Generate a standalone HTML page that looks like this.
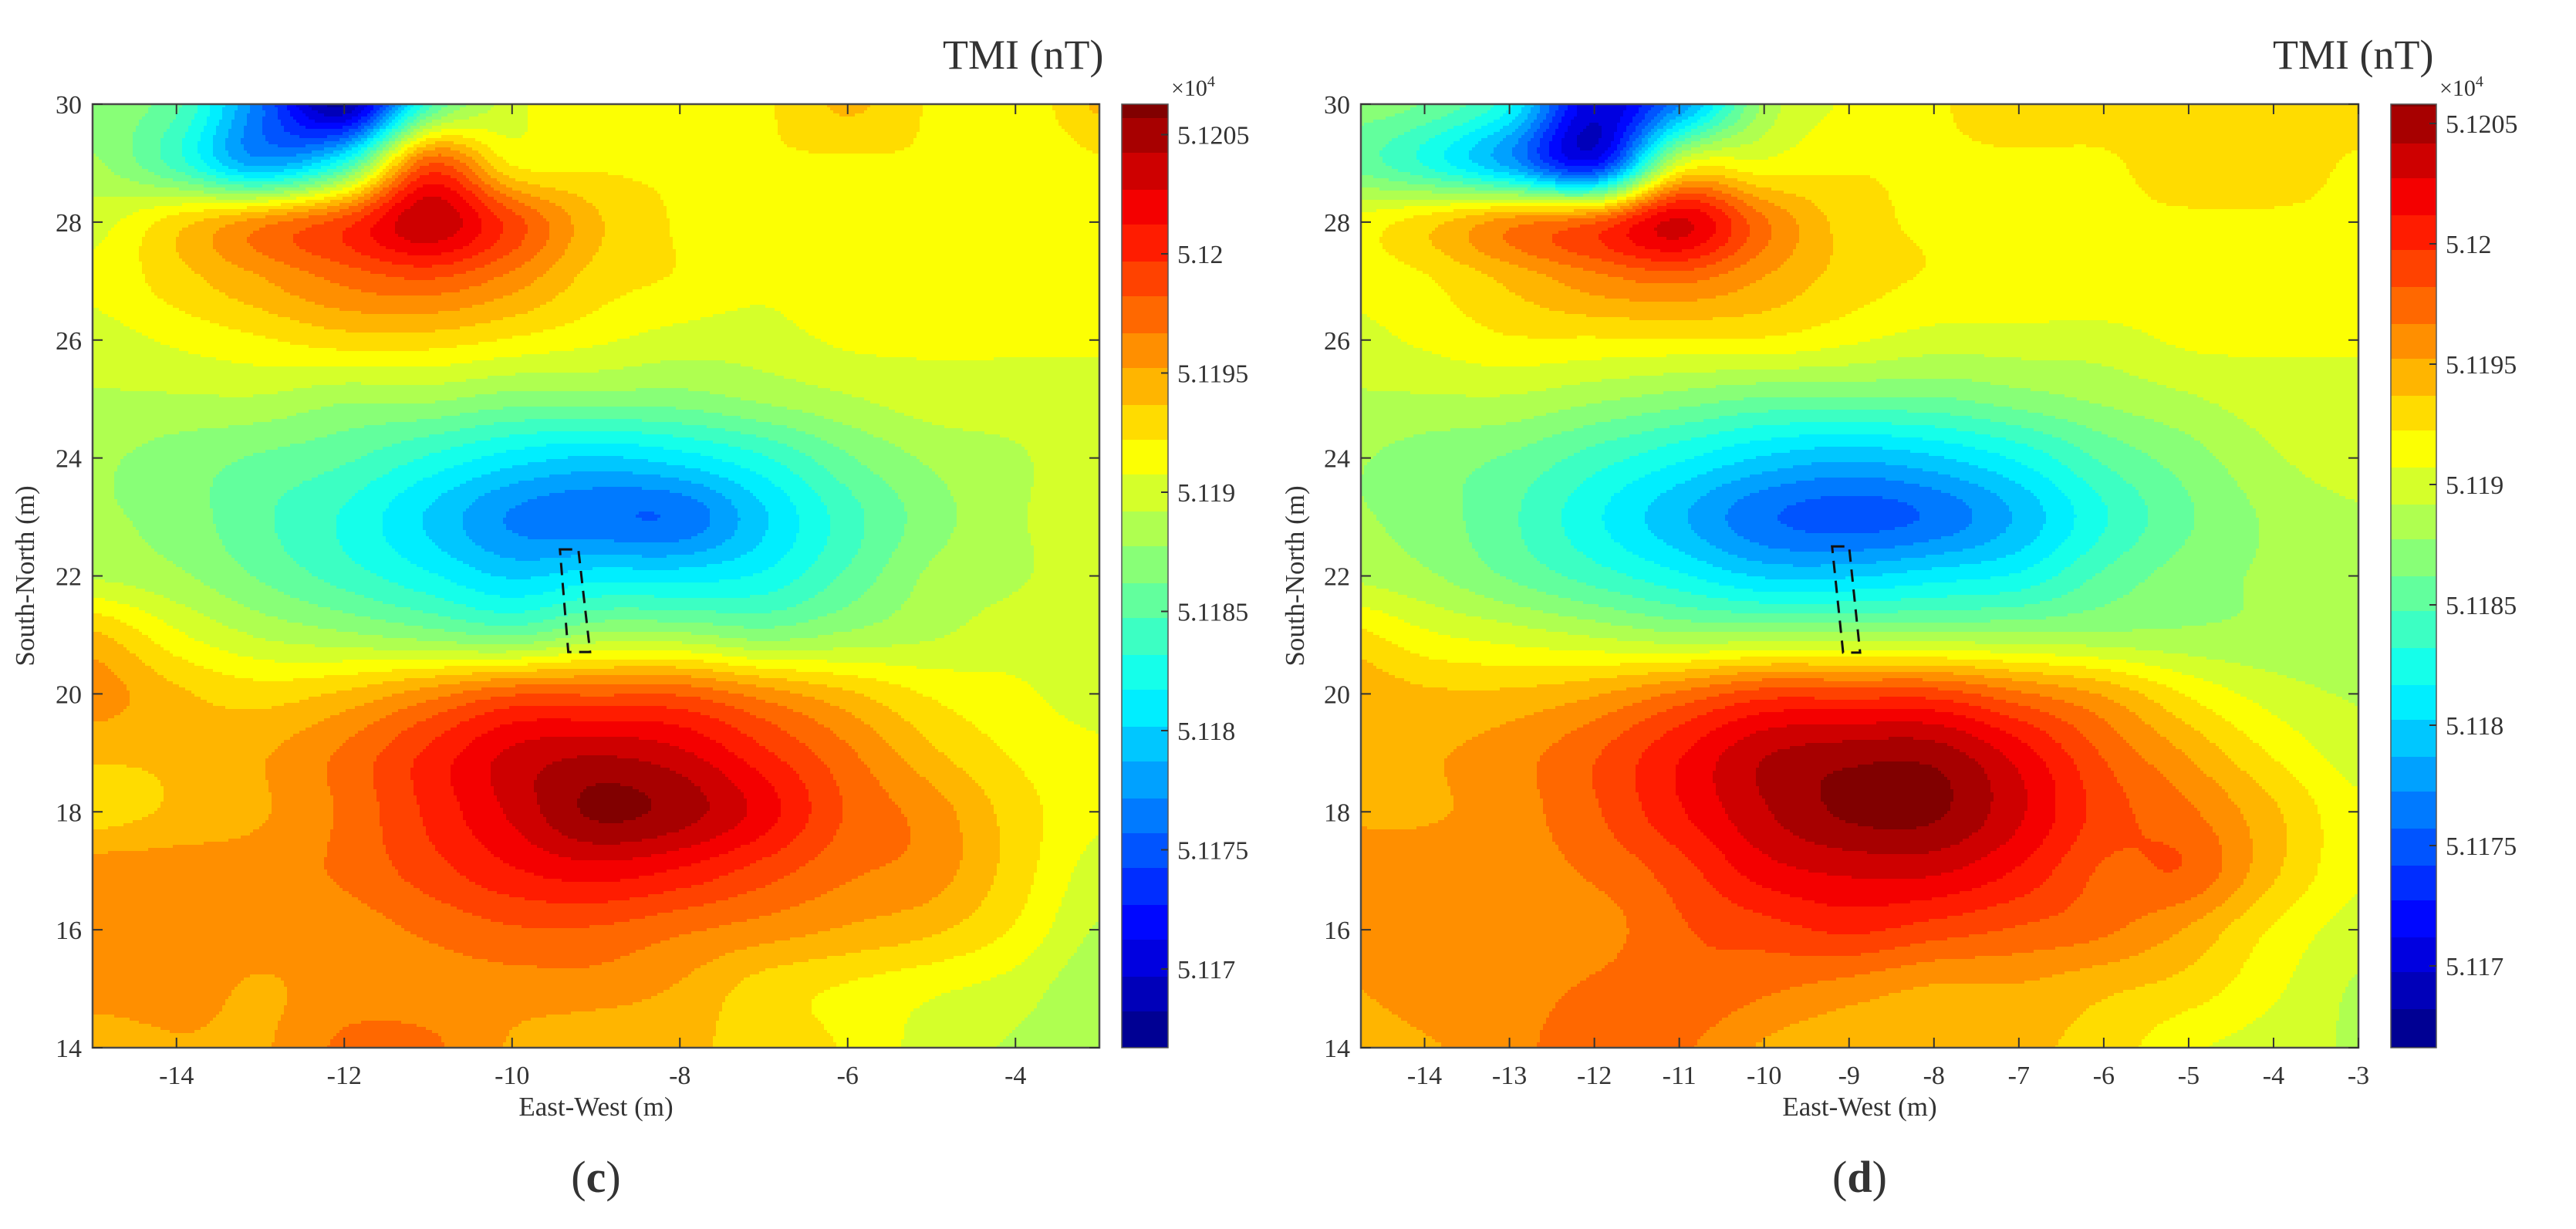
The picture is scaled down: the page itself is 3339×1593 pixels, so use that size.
<!DOCTYPE html>
<html>
<head>
<meta charset="utf-8">
<style>
html,body{margin:0;padding:0;background:#fff;}
body{width:3339px;height:1588px;overflow:hidden;}
svg text{font-family:"Liberation Serif",serif;fill:#333;}
</style>
</head>
<body>
<svg id="fig" width="3339" height="1588" viewBox="0 0 3339 1588" xmlns="http://www.w3.org/2000/svg"></svg>
<script>
// ---- data ----
const gridX = [-15,-14,-13,-12,-11,-10,-9,-8,-7,-6,-5,-4,-3];
const gridY = [30,29,28,27,26,25,24,23,22,21,20,19,18,17,16,15,14];
const tmiC = [
[51187,51185,51176,51168,51184,51190,51192,51192,51192,51194,51192,51191,51194],
[51188,51184,51178,51183,51198,51192,51192,51192,51192,51192,51192,51191,51192],
[51190,51193,51196,51199,51204,51199,51194,51192,51191,51192,51192,51192,51192],
[51191,51193,51195,51197,51198,51196,51193,51192,51191,51192,51192,51192,51192],
[51190,51191,51192,51193,51193,51192,51191,51190,51190,51191,51191,51191,51191],
[51189,51189,51189,51188,51188,51187,51187,51187,51188,51189,51190,51190,51190],
[51188,51187,51186,51185,51183,51181,51180,51181,51183,51186,51188,51189,51190],
[51188,51187,51185,51183,51180,51177,51176,51176,51180,51184,51187,51189,51190],
[51189,51188,51186,51184,51182,51180,51181,51181,51182,51185,51188,51189,51190],
[51194,51191,51189,51188,51187,51186,51188,51188,51187,51188,51189,51190,51190],
[51196,51194,51193,51194,51196,51198,51198,51198,51196,51194,51192,51191,51190],
[51194,51194,51195,51197,51200,51203,51204,51203,51200,51197,51194,51192,51191],
[51193,51194,51195,51197,51200,51203,51206,51205,51202,51198,51196,51193,51191],
[51196,51196,51196,51197,51199,51201,51202,51201,51199,51197,51196,51193,51190],
[51196,51196,51196,51196,51197,51198,51198,51197,51196,51195,51194,51192,51189],
[51196,51196,51195,51196,51196,51196,51196,51195,51193,51192,51191,51190,51188],
[51194,51195,51195,51197,51197,51195,51194,51194,51193,51192,51190,51189,51188]
];
const tmiD = [
[51187,51186,51182,51170,51177,51188,51191,51192,51193,51193,51193,51193,51193],
[51186,51183,51178,51172,51190,51191,51192,51192,51192,51192,51193,51193,51192],
[51191,51193,51196,51198,51203,51197,51193,51192,51192,51192,51192,51192,51192],
[51191,51192,51194,51196,51197,51195,51193,51192,51192,51192,51192,51192,51192],
[51190,51191,51192,51192,51192,51192,51191,51190,51190,51190,51191,51191,51191],
[51189,51189,51189,51188,51187,51186,51186,51186,51187,51188,51189,51190,51190],
[51188,51187,51186,51184,51182,51180,51179,51180,51182,51185,51187,51189,51190],
[51188,51187,51185,51182,51179,51176,51175,51176,51179,51183,51186,51188,51189],
[51189,51188,51186,51184,51182,51180,51180,51181,51182,51185,51187,51188,51189],
[51193,51191,51190,51189,51188,51188,51188,51188,51188,51188,51188,51188,51188],
[51195,51194,51194,51195,51197,51199,51199,51199,51197,51195,51192,51190,51189],
[51195,51195,51196,51198,51201,51204,51205,51205,51202,51198,51195,51192,51190],
[51195,51195,51196,51198,51201,51204,51206,51206,51203,51199,51197,51194,51191],
[51196,51196,51196,51197,51199,51202,51203,51203,51201,51198,51198,51194,51191],
[51196,51196,51196,51196,51198,51199,51200,51199,51198,51197,51195,51192,51190],
[51195,51196,51196,51197,51198,51197,51196,51195,51195,51194,51193,51191,51189],
[51194,51195,51196,51198,51197,51195,51194,51194,51194,51193,51191,51190,51189]
];
const xTicksC = [-14,-12,-10,-8,-6,-4];
const xTicksD = [-14,-13,-12,-11,-10,-9,-8,-7,-6,-5,-4,-3];
const yTicks = [14,16,18,20,22,24,26,28,30];
const cbTicks = [5.117,5.1175,5.118,5.1185,5.119,5.1195,5.12,5.1205];
const cbTickLabels = ["5.117","5.1175","5.118","5.1185","5.119","5.1195","5.12","5.1205"];
const boxCx = [-9.43,-9.21,-9.07,-9.33];
const boxCy = [22.45,22.45,20.71,20.71];
const boxDx = [-9.2,-9.0,-8.87,-9.07];
const boxDy = [22.5,22.5,20.7,20.7];

const VMIN = 51166.7, VMAX = 51206.5, STEP = 1.5;
const NS = "http://www.w3.org/2000/svg";
const svg = document.getElementById('fig');
function el(tag, attrs, parent){
  const e = document.createElementNS(NS, tag);
  for (const k in attrs) e.setAttribute(k, attrs[k]);
  (parent||svg).appendChild(e);
  return e;
}
function jet(t){
  t = Math.max(0, Math.min(1, t));
  const c = v => Math.round(255*Math.max(0, Math.min(1, v)));
  return `rgb(${c(1.5-Math.abs(4*t-3))},${c(1.5-Math.abs(4*t-2))},${c(1.5-Math.abs(4*t-1))})`;
}
function bandColor(v){
  const k = Math.floor((v - VMIN)/STEP);
  const mid = VMIN + (k+0.5)*STEP;
  return jet((mid - VMIN)/(VMAX - VMIN));
}
function cr(p0,p1,p2,p3,t){
  return 0.5*((2*p1)+(-p0+p2)*t+(2*p0-5*p1+4*p2-p3)*t*t+(-p0+3*p1-3*p2+p3)*t*t*t);
}
function sample(grid, x, y){
  const fx = (x - gridX[0]) / (gridX[1]-gridX[0]);
  const fy = (gridY[0] - y) / (gridY[0]-gridY[1]);
  const nx = gridX.length, ny = gridY.length;
  const ix = Math.max(0, Math.min(nx-2, Math.floor(fx)));
  const iy = Math.max(0, Math.min(ny-2, Math.floor(fy)));
  const tx = Math.max(0,Math.min(1,fx-ix)), ty = Math.max(0,Math.min(1,fy-iy));
  const g = (r,c)=>grid[Math.max(0,Math.min(ny-1,r))][Math.max(0,Math.min(nx-1,c))];
  const rows = [];
  for (let j=-1;j<=2;j++){
    rows.push(cr(g(iy+j,ix-1),g(iy+j,ix),g(iy+j,ix+1),g(iy+j,ix+2),tx));
  }
  return cr(rows[0],rows[1],rows[2],rows[3],ty);
}

function panel(cfg){
  const {name, L, R, T, B, xmin, xmax, grid, xTicks, cbL, cbW, cbTop, cbBot, bx, by, label, ylabX, title} = cfg;
  const g = el('g', {}, svg);
  
  
  const sx = v => L + (v - xmin)/(xmax - xmin)*(R - L);
  const sy = v => B - (v - 14)/(30 - 14)*(B - T);
  const ix = p => xmin + (p - L)/(R - L)*(xmax - xmin);
  const iy = p => 14 + (B - p)/(B - T)*16;
  const field = el('g', {}, g);
  
  
  const cell = 4;
  for (let py = T; py < B; py += cell){
    const h = Math.min(cell, B - py);
    const yv = iy(py + h/2);
    let runStart = L, runCol = null;
    for (let px = L; px < R; px += cell){
      const w = Math.min(cell, R - px);
      const col = bandColor(sample(grid, ix(px + w/2), yv));
      if (col !== runCol){
        if (runCol !== null){
          const r = el('rect', {x: runStart, y: py, width: px - runStart + 0.6, height: h + 0.6, fill: runCol}, field);
          
          
        }
        runStart = px; runCol = col;
      }
    }
    const r = el('rect', {x: runStart, y: py, width: R - runStart, height: h + 0.6, fill: runCol}, field);
    
    
  }
  const frame = el('rect', {x: L, y: T, width: R-L, height: B-T, fill: 'none', stroke: '#4a4a4a', 'stroke-width': 2.5}, g);
  
  
  xTicks.forEach(v => {
    const x = sx(v);
    el('line', {x1:x, y1:B, x2:x, y2:B-13, stroke:'#333', 'stroke-width':2}, g);
    el('line', {x1:x, y1:T, x2:x, y2:T+13, stroke:'#333', 'stroke-width':2}, g);
    const t = el('text', {x:x, y:B+47, 'font-size':34, 'text-anchor':'middle'}, g);
    t.textContent = String(v);
    
    
  });
  yTicks.forEach(v => {
    const y = sy(v);
    el('line', {x1:L, y1:y, x2:L+13, y2:y, stroke:'#333', 'stroke-width':2}, g);
    el('line', {x1:R, y1:y, x2:R-13, y2:y, stroke:'#333', 'stroke-width':2}, g);
    const t = el('text', {x:L-14, y:y+12, 'font-size':34, 'text-anchor':'end'}, g);
    t.textContent = String(v);
    
    
  });
  const xl = el('text', {x:(L+R)/2, y:B+88, 'font-size':35, 'text-anchor':'middle'}, g);
  xl.textContent = 'East-West (m)';
  
  
  const yl = el('text', {x:0, y:0, 'font-size':35, 'text-anchor':'middle', transform:`translate(${ylabX},${(T+B)/2}) rotate(-90)`}, g);
  yl.textContent = 'South-North (m)';
  
  
  const pts = bx.map((v,i)=>`${sx(v)},${sy(by[i])}`).join(' ');
  const poly = el('polygon', {points: pts, fill:'none', stroke:'#111', 'stroke-width':3, 'stroke-dasharray':'16,10'}, g);
  
  
  const cb = el('g', {}, g);
  
  
  const valToY = v => cfg.cbY0 - (v - 5.117)/0.0005*cfg.cbDy;
  const yToVal = p => (5.117 + (cfg.cbY0 - p)/cfg.cbDy*0.0005)*10000;
  for (let p = cbTop; p < cbBot; p += 3){
    const r = el('rect', {x: cbL, y: p, width: cbW, height: Math.min(3.6, cbBot-p), fill: bandColor(yToVal(p+1.5))}, cb);
    
    
  }
  el('rect', {x: cbL, y: cbTop, width: cbW, height: cbBot-cbTop, fill:'none', stroke:'#555', 'stroke-width':1.5}, cb);
  cbTicks.forEach((v,i) => {
    const y = valToY(v);
    el('line', {x1:cbL+cbW-9, y1:y, x2:cbL+cbW, y2:y, stroke:'#333', 'stroke-width':2}, cb);
    const t = el('text', {x:cbL+cbW+12, y:y+12, 'font-size':34}, cb);
    t.textContent = cbTickLabels[i];
    
    
  });
  const ex = el('text', {x:cbL+cbW+4, y:124, 'font-size':30}, cb);
  ex.innerHTML = '×10<tspan dy="-12" font-size="20">4</tspan>';
  
  
  const tt = el('text', {x:title, y:89, 'font-size':54}, g);
  tt.textContent = 'TMI (nT)';
  
  
  const lab = el('text', {x:(L+R)/2, y:1545, 'font-size':58, 'text-anchor':'middle'}, g);
  lab.innerHTML = '(<tspan font-weight="bold">' + label + '</tspan>)';
  
  
}

panel({name:'panel-c', L:120, R:1425, T:135, B:1358, xmin:-15, xmax:-3, grid:tmiC, xTicks:xTicksC,
  cbL:1454, cbW:60, cbTop:135, cbBot:1358, cbY0:1256, cbDy:154.5,
  bx:boxCx, by:boxCy, label:'c', ylabX:44, title:1222});
panel({name:'panel-d', L:1764, R:3057, T:135, B:1358, xmin:-14.75, xmax:-3, grid:tmiD, xTicks:xTicksD,
  cbL:3099, cbW:59, cbTop:135, cbBot:1358, cbY0:1252, cbDy:156,
  bx:boxDx, by:boxDy, label:'d', ylabX:1690, title:2946});
</script>
</body>
</html>
